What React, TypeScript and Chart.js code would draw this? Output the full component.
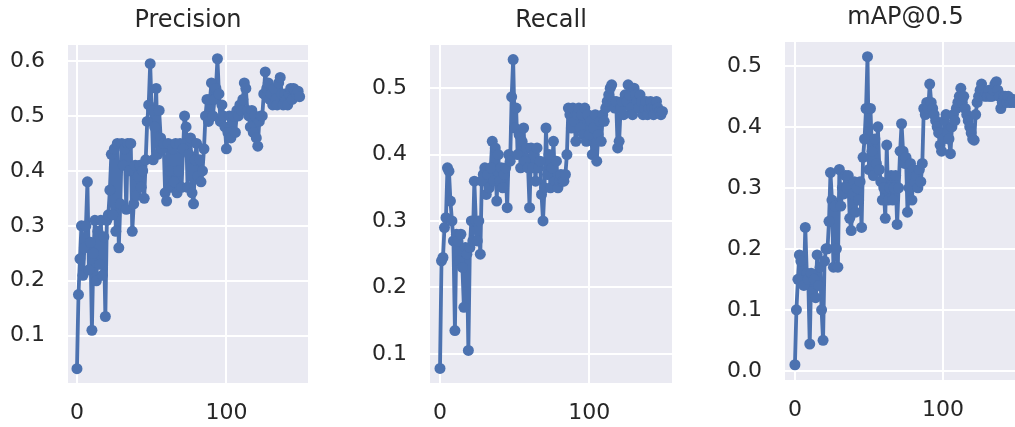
import React, { useEffect, useRef } from "react";
import { Chart, registerables } from "chart.js";

Chart.register(...registerables);

const precision = [
  0.04, 0.175, 0.24, 0.30, 0.21, 0.26, 0.30, 0.38, 0.22, 0.27,
  0.11, 0.25, 0.31, 0.20, 0.29, 0.23, 0.31, 0.21, 0.28, 0.135,
  0.31, 0.32, 0.365, 0.43, 0.32, 0.44, 0.29, 0.45, 0.26, 0.34,
  0.45, 0.41, 0.44, 0.33, 0.45, 0.40, 0.45, 0.29, 0.34, 0.41,
  0.355, 0.39, 0.41, 0.37, 0.40, 0.35, 0.42, 0.49, 0.52, 0.595,
  0.51, 0.42, 0.48, 0.55, 0.43, 0.51, 0.46, 0.44, 0.45, 0.36,
  0.345, 0.45, 0.40, 0.37, 0.44, 0.38, 0.45, 0.36, 0.40, 0.45,
  0.37, 0.44, 0.50, 0.48, 0.37, 0.43, 0.46, 0.36, 0.34, 0.42,
  0.45, 0.39, 0.42, 0.38, 0.40, 0.44, 0.50, 0.53, 0.49, 0.53,
  0.56, 0.50, 0.53, 0.55, 0.604, 0.54, 0.49, 0.52, 0.50, 0.48,
  0.44, 0.47, 0.50, 0.46, 0.49, 0.50, 0.47, 0.51, 0.50, 0.52,
  0.51, 0.53, 0.56, 0.55, 0.51, 0.50, 0.48, 0.51, 0.47, 0.50,
  0.46, 0.445, 0.49, 0.50, 0.50, 0.54, 0.58, 0.55, 0.56, 0.53,
  0.54, 0.52, 0.55, 0.53, 0.52, 0.56, 0.57, 0.54, 0.52, 0.54,
  0.53, 0.52, 0.54, 0.55, 0.53, 0.55, 0.545, 0.54, 0.545, 0.535,
];

const recall = [
  0.078, 0.24, 0.245, 0.29, 0.305, 0.38, 0.375, 0.33, 0.30, 0.27,
  0.135, 0.28, 0.27, 0.24, 0.28, 0.23, 0.17, 0.26, 0.25, 0.105,
  0.26, 0.30, 0.27, 0.36, 0.30, 0.27, 0.30, 0.25, 0.36, 0.37,
  0.38, 0.34, 0.37, 0.35, 0.38, 0.42, 0.36, 0.41, 0.33, 0.40,
  0.36, 0.38, 0.35, 0.37, 0.38, 0.32, 0.40, 0.39, 0.487, 0.543,
  0.44, 0.47, 0.40, 0.43, 0.38, 0.42, 0.44, 0.39, 0.41, 0.38,
  0.32, 0.41, 0.38, 0.40, 0.36, 0.41, 0.38, 0.39, 0.34, 0.30,
  0.35, 0.44, 0.37, 0.40, 0.35, 0.38, 0.42, 0.36, 0.39, 0.35,
  0.36, 0.37, 0.36, 0.36, 0.37, 0.40, 0.47, 0.46, 0.44, 0.47,
  0.45, 0.42, 0.46, 0.47, 0.44, 0.46, 0.43, 0.47, 0.42, 0.46,
  0.43, 0.45, 0.40, 0.44, 0.46, 0.39, 0.43, 0.45, 0.42, 0.46,
  0.45, 0.47, 0.48, 0.49, 0.50, 0.505, 0.48, 0.47, 0.48, 0.41,
  0.42, 0.47, 0.48, 0.46, 0.49, 0.48, 0.505, 0.49, 0.47, 0.46,
  0.50, 0.49, 0.48, 0.47, 0.49, 0.48, 0.46, 0.47, 0.48, 0.46,
  0.47, 0.48, 0.47, 0.46, 0.47, 0.48, 0.47, 0.465, 0.46, 0.465,
];

const map50 = [
  0.01, 0.10, 0.15, 0.19, 0.18, 0.15, 0.14, 0.235, 0.16, 0.15,
  0.044, 0.16, 0.13, 0.15, 0.12, 0.19, 0.14, 0.17, 0.10, 0.05,
  0.18, 0.20, 0.20, 0.245, 0.325, 0.28, 0.17, 0.27, 0.20, 0.17,
  0.33, 0.27, 0.30, 0.29, 0.32, 0.30, 0.32, 0.25, 0.23, 0.29,
  0.31, 0.26, 0.30, 0.28, 0.31, 0.235, 0.35, 0.38, 0.43, 0.515,
  0.33, 0.43, 0.36, 0.32, 0.38, 0.34, 0.40, 0.33, 0.31, 0.28,
  0.30, 0.25, 0.37, 0.28, 0.30, 0.32, 0.28, 0.30, 0.32, 0.24,
  0.30, 0.36, 0.405, 0.36, 0.34, 0.35, 0.26, 0.30, 0.34, 0.28,
  0.33, 0.31, 0.32, 0.30, 0.33, 0.31, 0.34, 0.43, 0.42, 0.44,
  0.43, 0.47, 0.44, 0.43, 0.42, 0.41, 0.40, 0.39, 0.37, 0.36,
  0.38, 0.41, 0.42, 0.39, 0.38, 0.356, 0.40, 0.42, 0.41, 0.43,
  0.44, 0.45, 0.463, 0.44, 0.45, 0.43, 0.42, 0.41, 0.40, 0.39,
  0.38, 0.378, 0.42, 0.44, 0.45, 0.46, 0.47, 0.46, 0.45, 0.455,
  0.45, 0.46, 0.45, 0.45, 0.46, 0.47, 0.474, 0.46, 0.45, 0.43,
  0.44, 0.45, 0.45, 0.44, 0.45, 0.44, 0.44, 0.445, 0.44, 0.44,
];

const xTicks = [0, 100];
const precisionTicks = [0.1, 0.2, 0.3, 0.4, 0.5, 0.6];
const recallTicks = [0.1, 0.2, 0.3, 0.4, 0.5];
const mapTicks = [0.0, 0.1, 0.2, 0.3, 0.4, 0.5];

const H = 427;
const FONT = "'DejaVu Sans', 'Liberation Sans', sans-serif";
const TEXT = "#262626";
const LINE = "#4C72B0";
const BG = "#EAEAF2";

type Panel = {
  title: string;
  values: number[];
  yTicks: number[];
  left: number;
  width: number;
  plotLeft: number;
  plotRight: number;
  plotTop: number;
  plotBottom: number;
  xMin: number;
  xMax: number;
  yMin: number;
  yMax: number;
};

const panels: Panel[] = [
  { title: "Precision", values: precision, yTicks: precisionTicks, left: 0, width: 330, plotLeft: 68, plotRight: 308, plotTop: 45, plotBottom: 383, xMin: -6, xMax: 154.6, yMin: 0.014, yMax: 0.629 },
  { title: "Recall", values: recall, yTicks: recallTicks, left: 330, width: 350, plotLeft: 430, plotRight: 672, plotTop: 45, plotBottom: 383, xMin: -6.7, xMax: 155.4, yMin: 0.056, yMax: 0.565 },
  { title: "mAP@0.5", values: map50, yTicks: mapTicks, left: 680, width: 360, plotLeft: 785, plotRight: 1026, plotTop: 42, plotBottom: 380, xMin: -6.7, xMax: 156, yMin: -0.015, yMax: 0.539 },
];

const bgPlugin = {
  id: "plotBg",
  beforeDraw(chart: any) {
    const { ctx, chartArea } = chart;
    ctx.save();
    ctx.fillStyle = BG;
    ctx.fillRect(chartArea.left, chartArea.top, chartArea.right - chartArea.left, chartArea.bottom - chartArea.top);
    ctx.restore();
  },
};

function PanelChart({ p }: { p: Panel }) {
  const ref = useRef<HTMLCanvasElement | null>(null);
  useEffect(() => {
    if (!ref.current) return;
    const titleSize = 24;
    const titleCenter = p.plotTop - 24;
    const padTop = titleCenter - (titleSize * 1.2) / 2;
    const padBottom = p.plotTop - titleSize * 1.2 - padTop;
    const chart = new Chart(ref.current, {
      type: "line",
      data: {
        datasets: [
          {
            data: p.values.map((v, i) => ({ x: i, y: v })),
            borderColor: LINE,
            backgroundColor: LINE,
            borderWidth: 3.8,
            borderJoinStyle: "round",
            borderCapStyle: "round",
            pointRadius: 5.5,
            pointBorderWidth: 0,
            pointBackgroundColor: LINE,
            tension: 0,
          },
        ],
      },
      options: {
        responsive: false,
        animation: false,
        layout: { padding: { left: 0, top: 0, bottom: 0, right: p.left + p.width - p.plotRight } },
        plugins: {
          legend: { display: false },
          tooltip: { enabled: false },
          title: {
            display: true,
            text: p.title,
            fullSize: false,
            color: TEXT,
            font: { family: FONT, size: titleSize, weight: "normal" },
            padding: { top: padTop, bottom: padBottom },
          },
        },
        scales: {
          x: {
            type: "linear",
            min: p.xMin,
            max: p.xMax,
            afterBuildTicks: (axis: any) => {
              axis.ticks = xTicks.map((v) => ({ value: v }));
            },
            afterFit: (axis: any) => {
              axis.height = H - p.plotBottom;
            },
            grid: { color: "#ffffff", lineWidth: 2, drawTicks: false },
            border: { display: false },
            ticks: {
              padding: 17,
              color: TEXT,
              font: { family: FONT, size: 22 },
              callback: (v: any) => String(v),
            },
          },
          y: {
            type: "linear",
            min: p.yMin,
            max: p.yMax,
            afterBuildTicks: (axis: any) => {
              axis.ticks = p.yTicks.map((v) => ({ value: v }));
            },
            afterFit: (axis: any) => {
              axis.width = p.plotLeft - p.left;
            },
            grid: { color: "#ffffff", lineWidth: 2, drawTicks: false },
            border: { display: false },
            ticks: {
              padding: 23,
              color: TEXT,
              font: { family: FONT, size: 22 },
              callback: (v: any) => Number(v).toFixed(1),
            },
          },
        },
      },
      plugins: [bgPlugin],
    } as any);
    return () => chart.destroy();
  }, [p]);
  return (
    <div style={{ position: "absolute", left: p.left, top: 0, width: p.width, height: H }}>
      <canvas ref={ref} width={p.width} height={H} style={{ width: p.width, height: H, display: "block" }} />
    </div>
  );
}

export default function App() {
  return (
    <div style={{ position: "fixed", left: 0, top: 0, width: 1015, height: H, overflow: "hidden", background: "#ffffff" }}>
      {panels.map((p) => (
        <PanelChart key={p.title} p={p} />
      ))}
    </div>
  );
}
